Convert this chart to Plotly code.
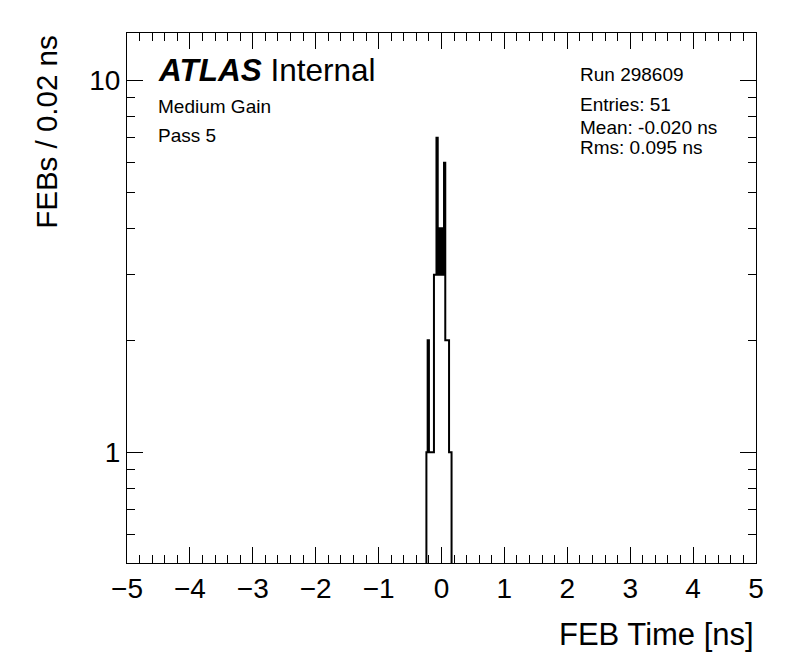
import plotly.graph_objects as go

# Histogram data: bin low-edge indices (bin width 0.02 ns) and counts
bin_width = 0.02
bin_index = [-12, -11, -10, -9, -8, -7, -6, -5, -4, -3, -2, -1, 0, 1, 2, 3, 4, 5, 6, 7]
counts =    [1, 2, 1, 1, 1, 1, 3, 3, 7, 3, 4, 3, 4, 3, 6, 2, 2, 2, 1, 1]

x_ticks = [-5, -4, -3, -2, -1, 0, 1, 2, 3, 4, 5]
y_ticks = [1, 10]
y_minor = [0.6, 0.7, 0.8, 0.9, 2, 3, 4, 5, 6, 7, 8, 9]

FONT = "Liberation Sans, Arial, Helvetica, sans-serif"

# Build step outline (bins with zero content drawn at a value below the axis range)
low = 0.01
xs = [(bin_index[0]) * bin_width]
ys = [low]
for k, c in zip(bin_index, counts):
    xs.append(k * bin_width)
    ys.append(c)
xs.append((bin_index[-1] + 1) * bin_width)
ys.append(low)
xs.append((bin_index[-1] + 2) * bin_width)
ys.append(low)

fig = go.Figure()
fig.add_trace(go.Scatter(x=xs, y=ys, mode="lines", line=dict(color="black", width=2, shape="hv"),
                         hoverinfo="skip", showlegend=False))

fig.update_layout(
    width=796, height=672,
    margin=dict(l=119, r=48, t=25, b=117),
    paper_bgcolor="white", plot_bgcolor="white",
    font=dict(family=FONT, color="black"),
    showlegend=False,
)
fig.update_xaxes(
    range=[-5, 5], tickvals=x_ticks, ticks="inside", ticklen=16, tickwidth=1, tickcolor="black",
    showline=True, linecolor="black", linewidth=1, mirror="ticks", showgrid=False, zeroline=False,
    tickfont=dict(size=28, family=FONT),
    minor=dict(dtick=0.2, ticks="inside", ticklen=8, tickcolor="black", showgrid=False),
)
fig.update_yaxes(
    type="log", range=[-0.298, 1.127], tickvals=y_ticks, ticktext=["1", "10"],
    ticks="inside", ticklen=16, tickwidth=1, tickcolor="black",
    showline=True, linecolor="black", linewidth=1, mirror="ticks", showgrid=False, zeroline=False,
    tickfont=dict(size=28, family=FONT),
    minor=dict(tickvals=y_minor, ticks="inside", ticklen=8, tickcolor="black", showgrid=False),
)

ann = []
ann.append(dict(text="FEB Time [ns]", x=1.0, xref="paper", xanchor="right", y=-0.134, yref="paper",
                yanchor="middle", showarrow=False, font=dict(size=31, family=FONT)))
ann.append(dict(text="FEBs / 0.02 ns", x=-0.127, xref="paper", xanchor="center", y=0.812, yref="paper",
                yanchor="middle", textangle=-90, showarrow=False, font=dict(size=29.5, family=FONT)))
ann.append(dict(text="<b><i>ATLAS</i></b> Internal", x=0.046, xref="paper", xanchor="left", y=0.9302, yref="paper",
                yanchor="middle", showarrow=False, font=dict(size=31.5, family=FONT)))
ann.append(dict(text="Medium Gain", x=0.046, xref="paper", xanchor="left", y=0.8604, yref="paper",
                yanchor="middle", showarrow=False, font=dict(size=19, family=FONT)))
ann.append(dict(text="Pass 5", x=0.046, xref="paper", xanchor="left", y=0.8057, yref="paper",
                yanchor="middle", showarrow=False, font=dict(size=19, family=FONT)))
right_lines = [("Run 298609", 0.9208), ("Entries: 51", 0.8642), ("Mean: -0.020 ns", 0.8208), ("Rms: 0.095 ns", 0.7849)]
for t, yy in right_lines:
    ann.append(dict(text=t, x=0.717, xref="paper", xanchor="left", y=yy, yref="paper",
                    yanchor="middle", showarrow=False, font=dict(size=19, family=FONT)))
fig.update_layout(annotations=ann)

fig.write_html("out.html")
